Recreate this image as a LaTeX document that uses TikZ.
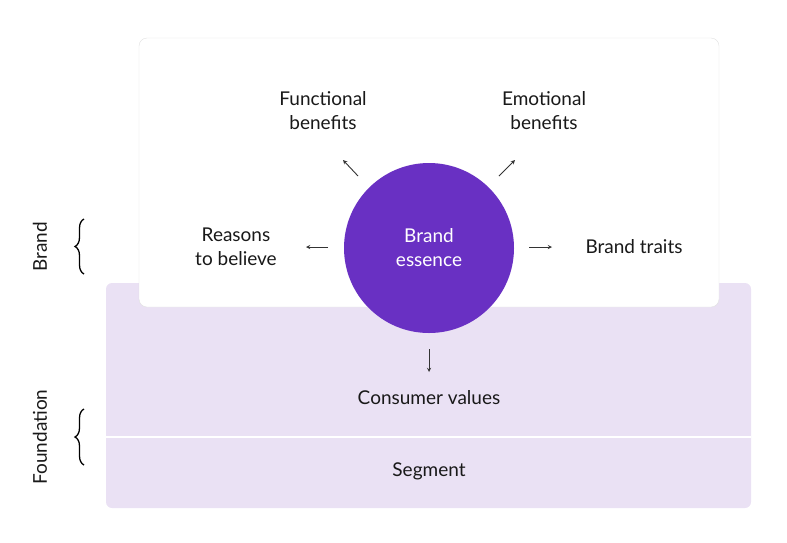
\documentclass[tikz,border=0pt]{standalone}
\usepackage{fontspec}
\setmainfont{Lato}
\usetikzlibrary{decorations.pathreplacing}
\definecolor{essence}{HTML}{6930C3}
\definecolor{lilac}{HTML}{EAE1F4}
\tikzset{
  label text/.style={align=center, font=\fontsize{19}{24}\selectfont, text=black!90},
  small arrow/.style={->, >=stealth, line width=0.9pt, black!80},
  side brace/.style={decorate, decoration={brace, amplitude=9pt}, line width=1.3pt},
}
\begin{document}
\begin{tikzpicture}[x=1pt,y=-1pt]
\useasboundingbox (0,0) rectangle (787,542);

% foundation block
\fill[lilac, rounded corners=6pt] (106,283) rectangle (751,508);
\draw[white, line width=2pt] (106,437) -- (751,437);

% brand card
\filldraw[fill=white, draw=black!12, rounded corners=8pt] (139,38) rectangle (719,307);

% essence
\node[circle, fill=essence, minimum size=170pt, inner sep=0pt] (essence) at (429,248) {};
\node[label text, text=white] (essencetext) at (essence) {Brand\\essence};

% labels around
\node[label text] (functional) at (323,111) {Functional\\benefits};
\node[label text] (emotional) at (544,111) {Emotional\\benefits};
\node[label text] (reasons) at (236,247) {Reasons\\to believe};
\node[label text] (traits) at (634,247) {Brand traits};
\node[label text] (consumer) at (429,398) {Consumer values};
\node[label text] (segment) at (429,471) {Segment};

% small arrows
\coordinate (nwA) at (358,176); \coordinate (nwB) at (343,160);
\coordinate (neA) at (499,176); \coordinate (neB) at (515,160);
\coordinate (wA) at (328,247);  \coordinate (wB) at (306,247);
\coordinate (eA) at (529,247);  \coordinate (eB) at (552,247);
\coordinate (sA) at (429,349);  \coordinate (sB) at (429,372);
\draw[small arrow] (nwA) -- (nwB);
\draw[small arrow] (neA) -- (neB);
\draw[small arrow] (wA) -- (wB);
\draw[small arrow] (eA) -- (eB);
\draw[small arrow] (sA) -- (sB);

% side labels
\node[label text, rotate=90] (brand) at (40,247) {Brand};
\node[label text, rotate=90] (foundation) at (40,437) {Foundation};
\coordinate (b1) at (84,274); \coordinate (b2) at (84,219);
\coordinate (f1) at (84,465); \coordinate (f2) at (84,409);
\draw[side brace] (b1) -- (b2);
\draw[side brace] (f1) -- (f2);

\end{tikzpicture}
\end{document}
